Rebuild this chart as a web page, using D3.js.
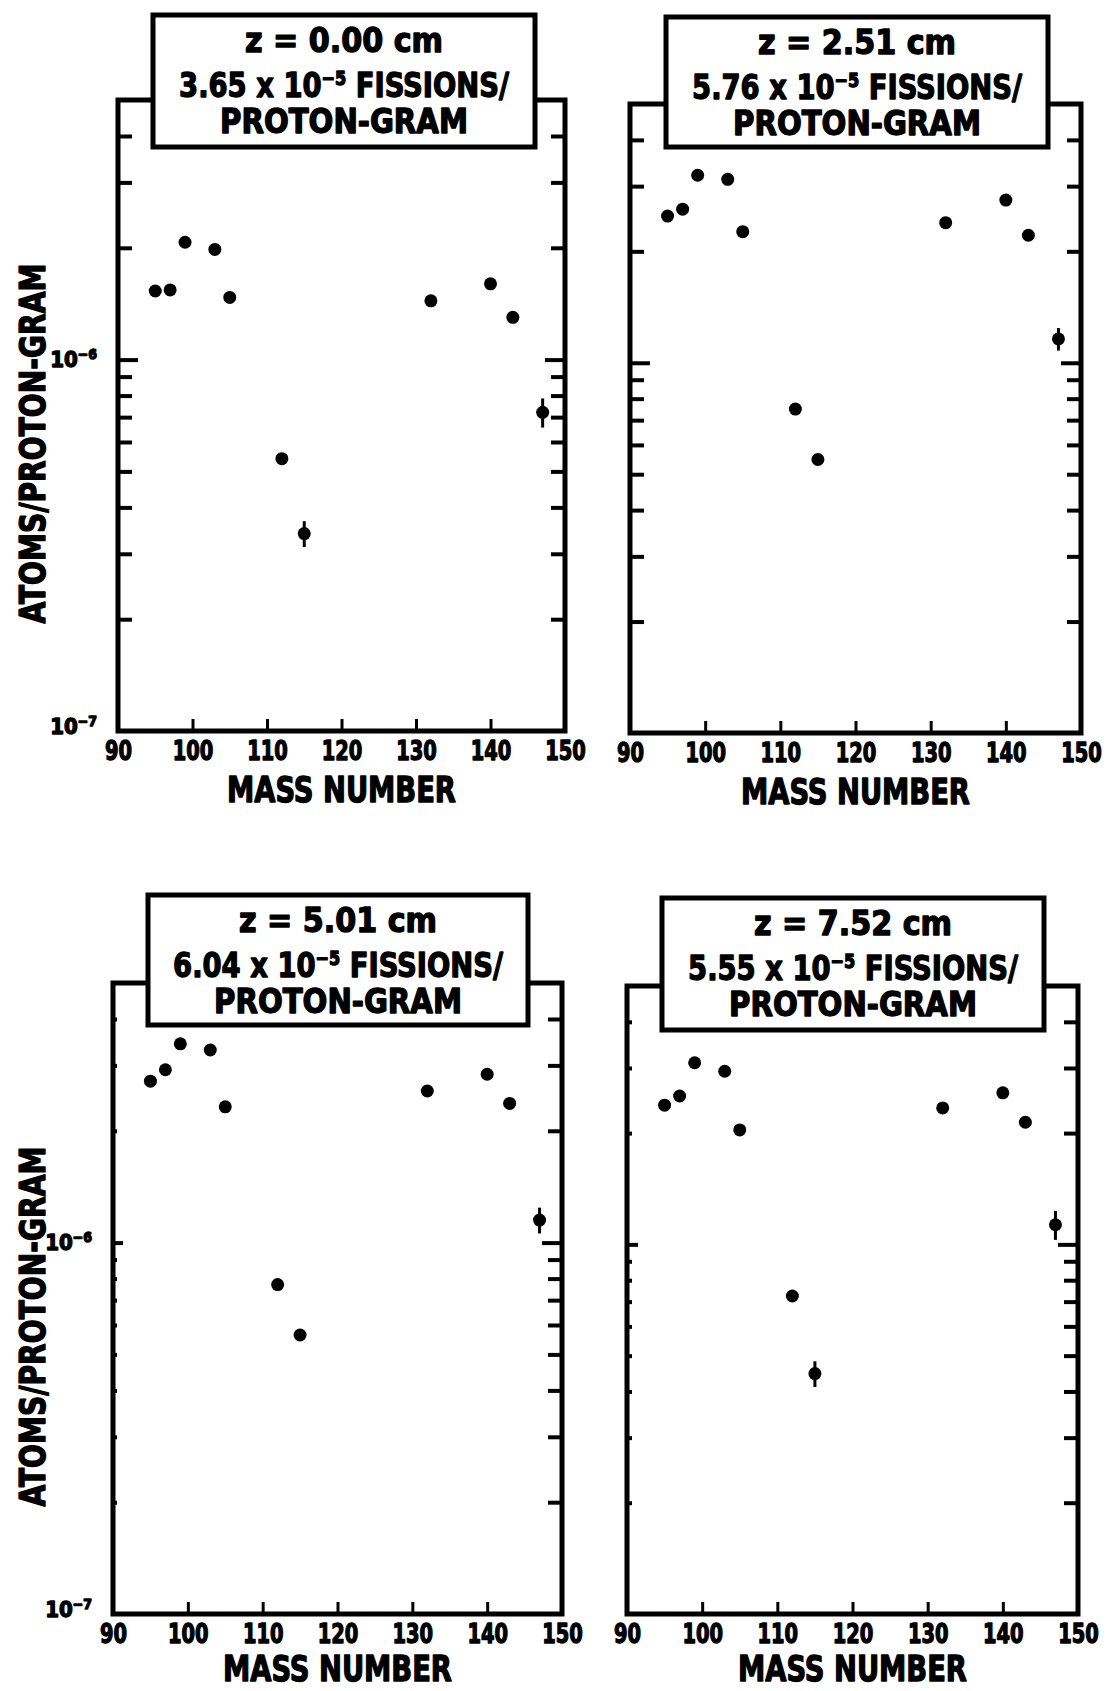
<!DOCTYPE html>
<html>
<head>
<meta charset="utf-8">
<script src="https://cdn.jsdelivr.net/npm/d3@7"></script>
<style>
  body { margin: 0; background: #fff; }
  svg text {
    font-family: "DejaVu Sans Condensed", "DejaVu Sans", sans-serif;
    font-weight: bold;
    fill: #000;
    stroke: #000;
    stroke-width: 1.3px;
    stroke-linejoin: round;
  }
</style>
</head>
<body>
<div id="vis"></div>
<script>
const WIDTH = 1106;
const HEIGHT = 1691;

// ############
// data
// ############
const massNumbers = [95, 97, 99, 103, 105, 112, 115, 132, 140, 143, 147];

const zPositions = ["0.00", "2.51", "5.01", "7.52"];
const fissionRates = ["3.65", "5.76", "6.04", "5.55"];

// atoms / proton-gram
const atomsZ000 = [1.53e-6, 1.54e-6, 2.07e-6, 1.98e-6, 1.47e-6, 5.41e-7, 3.40e-7, 1.44e-6, 1.60e-6, 1.30e-6, 7.21e-7];
const atomsZ251 = [2.49e-6, 2.60e-6, 3.21e-6, 3.13e-6, 2.26e-6, 7.50e-7, 5.48e-7, 2.39e-6, 2.75e-6, 2.21e-6, 1.16e-6];
const atomsZ501 = [2.72e-6, 2.92e-6, 3.43e-6, 3.30e-6, 2.32e-6, 7.71e-7, 5.64e-7, 2.56e-6, 2.84e-6, 2.37e-6, 1.15e-6];
const atomsZ752 = [2.38e-6, 2.52e-6, 3.10e-6, 2.94e-6, 2.04e-6, 7.25e-7, 4.47e-7, 2.34e-6, 2.57e-6, 2.14e-6, 1.13e-6];

// relative error bars (0 = no bar drawn)
const errZ000 = [0, 0, 0, 0, 0, 0, 0.08, 0, 0, 0, 0.09];
const errZ251 = [0, 0, 0, 0, 0, 0, 0, 0, 0, 0, 0.07];
const errZ501 = [0, 0, 0, 0, 0, 0, 0, 0, 0, 0, 0.08];
const errZ752 = [0, 0, 0, 0, 0, 0, 0.08, 0, 0, 0, 0.09];

const xDomain = [90, 150];
const yDomain = [1e-7, 5e-6];
const xTicks = [90, 100, 110, 120, 130, 140, 150];
const yMinorTicks = [2e-7, 3e-7, 4e-7, 5e-7, 6e-7, 7e-7, 8e-7, 9e-7, 2e-6, 3e-6, 4e-6];
const yMajorTicks = [1e-6];
const yLabelTicks = [1e-7, 1e-6];

// ############
// layout
// ############
const PANELS = [
  { left: 118, right: 565, top: 100, bottom: 731, box: [153, 15, 535, 147],
    values: atomsZ000, errors: errZ000, z: zPositions[0], rate: fissionRates[0], yLabels: true, leftTick: 14 },
  { left: 630, right: 1081, top: 104, bottom: 733, box: [666, 17, 1048, 147],
    values: atomsZ251, errors: errZ251, z: zPositions[1], rate: fissionRates[1], yLabels: false, leftTick: 14 },
  { left: 113, right: 562, top: 983, bottom: 1614, box: [148, 895, 528, 1025],
    values: atomsZ501, errors: errZ501, z: zPositions[2], rate: fissionRates[2], yLabels: true, leftTick: 4 },
  { left: 627, right: 1078, top: 986, bottom: 1614, box: [662, 898, 1044, 1030],
    values: atomsZ752, errors: errZ752, z: zPositions[3], rate: fissionRates[3], yLabels: false, leftTick: 5 },
];

const svg = d3.select("#vis")
  .append("svg")
  .attr("width", WIDTH)
  .attr("height", HEIGHT)
  .style("background", "#fff");

// squeeze a text horizontally to a target width (condensed type look)
function fit(text, cx, y, width, rotate) {
  const w = text.node().getComputedTextLength();
  const s = width / w;
  text.attr("text-anchor", "middle")
    .attr("x", 0).attr("y", 0)
    .attr("transform", "translate(" + cx + "," + y + ")" + (rotate ? " rotate(-90)" : "") + " scale(" + s + ",1)");
}

PANELS.forEach((p) => {
  const g = svg.append("g");

  const x = d3.scaleLinear().domain(xDomain).range([p.left, p.right]);
  const y = d3.scaleLog().domain(yDomain).range([p.bottom, p.top]);

  // y ticks, inward on both sides
  const yTickAxis = (axis, pos, vals, size) =>
    g.append("g")
      .attr("transform", "translate(" + pos + ",0)")
      .call(axis(y).tickValues(vals).tickSize(size).tickFormat(""))
      .call((a) => a.select(".domain").remove())
      .call((a) => a.selectAll("line").attr("stroke-width", 4));

  yTickAxis(d3.axisRight, p.left, yMinorTicks, p.leftTick);
  yTickAxis(d3.axisRight, p.left, yMajorTicks, p.leftTick + 6);
  yTickAxis(d3.axisLeft, p.right, yMinorTicks, 14);
  yTickAxis(d3.axisLeft, p.right, yMajorTicks, 20);

  // x axis: ticks pointing up, labels below
  const xAxis = g.append("g")
    .attr("transform", "translate(0," + p.bottom + ")")
    .call(d3.axisBottom(x).tickValues(xTicks).tickSizeInner(-12).tickSizeOuter(0).tickPadding(10).tickFormat(d3.format("d")))
    .call((a) => a.select(".domain").remove());
  xAxis.selectAll("line").attr("stroke-width", 3);
  xAxis.selectAll("text")
    .style("font-size", "27px")
    .attr("transform", "scale(0.8,1)");

  // frame
  g.append("rect")
    .attr("x", p.left)
    .attr("y", p.top)
    .attr("width", p.right - p.left)
    .attr("height", p.bottom - p.top)
    .attr("fill", "none")
    .attr("stroke", "#000")
    .attr("stroke-width", 5);

  // points
  const pts = massNumbers.map((m, i) => ({ m: m, v: p.values[i], e: p.errors[i] }));

  g.selectAll("line.err")
    .data(pts.filter((d) => d.e > 0))
    .join("line")
    .attr("class", "err")
    .attr("x1", (d) => x(d.m))
    .attr("x2", (d) => x(d.m))
    .attr("y1", (d) => y(d.v * (1 + d.e)))
    .attr("y2", (d) => y(d.v * (1 - d.e)))
    .attr("stroke", "#000")
    .attr("stroke-width", 3);

  g.selectAll("circle")
    .data(pts)
    .join("circle")
    .attr("cx", (d) => x(d.m))
    .attr("cy", (d) => y(d.v))
    .attr("r", 6.5)
    .attr("fill", "#000");

  // y labels (left panels only)
  if (p.yLabels) {
    yLabelTicks.forEach((v) => {
      const t = g.append("text")
        .attr("text-anchor", "end")
        .attr("x", p.left - 21)
        .attr("y", y(v) + (v === yDomain[0] ? 3 : 7))
        .style("font-size", "22px");
      t.append("tspan").text("10");
      t.append("tspan").attr("dy", -8).style("font-size", "14px").text("\u2212" + Math.round(-Math.log10(v)));
    });

    const yt = g.append("text").style("font-size", "36px").text("ATOMS/PROTON-GRAM");
    fit(yt, 45, (p.top + p.bottom) / 2 + 28, 360, true);
  }

  // x title
  const xt = g.append("text").style("font-size", "36px").text("MASS NUMBER");
  fit(xt, (p.left + p.right) / 2, Math.min(p.bottom + 71, HEIGHT - 10), 229, false);

  // title box
  const [bx0, by0, bx1, by1] = p.box;
  g.append("rect")
    .attr("x", bx0)
    .attr("y", by0)
    .attr("width", bx1 - bx0)
    .attr("height", by1 - by0)
    .attr("fill", "#fff")
    .attr("stroke", "#000")
    .attr("stroke-width", 5);

  const cx = (bx0 + bx1) / 2;
  const l1 = g.append("text").style("font-size", "34px").text("z = " + p.z + " cm");
  fit(l1, cx, by0 + 37, 198, false);

  const l2 = g.append("text").style("font-size", "34px");
  l2.append("tspan").text(p.rate + " x 10");
  l2.append("tspan").attr("dy", -12).style("font-size", "20px").text("\u22125");
  l2.append("tspan").attr("dy", 12).text(" FISSIONS/");
  fit(l2, cx, by0 + 82, 330, false);

  const l3 = g.append("text").style("font-size", "34px").text("PROTON-GRAM");
  fit(l3, cx, by0 + 118, 248, false);
});
</script>
</body>
</html>
